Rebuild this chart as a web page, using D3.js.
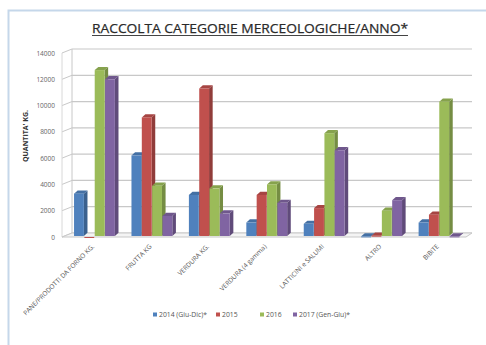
<!doctype html>
<html>
<head>
<meta charset="utf-8">
<title>Raccolta</title>
<script src="https://cdn.jsdelivr.net/npm/d3@7"></script>
<style>
  body { margin: 0; background: #fff; }
  text { font-family: "Open Sans", "Liberation Sans", sans-serif; }
</style>
</head>
<body>
<svg width="486" height="345"></svg>
<script>
var categories = ["PANE/PRODOTTI DA FORNO KG.", "FRUTTA KG", "VERDURA KG.", "VERDURA (4 gamma)", "LATTICINI e SALUMI", "ALTRO", "BIBITE"];
var seriesNames = ["2014 (Giu-Dic)*", "2015", "2016", "2017 (Gen-Giu)*"];
var v2014 = [3300, 6200, 3200, 1100, 1000, 50, 1100];
var v2015 = [0, 9100, 11300, 3200, 2200, 100, 1700];
var v2016 = [12700, 3900, 3700, 4000, 7900, 2000, 10300];
var v2017 = [12000, 1600, 1800, 2600, 6600, 2800, 50];
var yTicks = [0, 2000, 4000, 6000, 8000, 10000, 12000, 14000];

var values = [v2014, v2015, v2016, v2017];
var colors = ["#4f81bd", "#c0504d", "#9bbb59", "#8064a2"];

var svg = d3.select("svg");
var dx = 6, dy = -4; // depth offset for the 3d look

// frame
svg.append("rect").attr("x", 8.5).attr("y", 10.5).attr("width", 490).attr("height", 340)
  .attr("fill", "none").attr("stroke", "#c5d7ea").attr("stroke-width", 2);

var x = d3.scaleBand().domain(categories).range([66, 468]).paddingInner(0.28).paddingOuter(0.14);
var xs = d3.scaleBand().domain(d3.range(4)).range([0, x.bandwidth()]);
var y = d3.scaleLinear().domain([0, 14000]).range([237, 53]);

// walls and grid
var g = svg.append("g");
g.selectAll("line.grid").data(yTicks).join("line")
  .attr("x1", 66 + dx).attr("x2", 472)
  .attr("y1", d => y(d) + dy).attr("y2", d => y(d) + dy)
  .attr("stroke", "#c8c8c8").attr("stroke-width", 1.2);
g.selectAll("line.side").data(yTicks).join("line")
  .attr("x1", 62).attr("x2", 66 + dx)
  .attr("y1", d => y(d)).attr("y2", d => y(d) + dy)
  .attr("stroke", "#c8c8c8").attr("stroke-width", 1);
g.append("line").attr("x1", 66 + dx).attr("x2", 66 + dx).attr("y1", y(14000) + dy).attr("y2", y(0) + dy)
  .attr("stroke", "#c8c8c8");
g.append("line").attr("x1", 62).attr("x2", 62).attr("y1", y(14000)).attr("y2", y(0))
  .attr("stroke", "#d8d8d8");
// floor
g.append("path")
  .attr("d", "M62," + y(0) + "L466," + y(0) + "L472," + (y(0) + dy) + "L" + (66 + dx) + "," + (y(0) + dy) + "Z")
  .attr("fill", "#f4f4f4").attr("stroke", "#c8c8c8");

// y labels
svg.selectAll("text.ytick").data(yTicks).join("text")
  .attr("x", 55).attr("y", d => y(d) + 2.5)
  .attr("text-anchor", "end").attr("font-size", 6.5).attr("fill", "#666")
  .text(d => d);

// bars
var bars = [];
values.forEach(function (vals, s) {
  vals.forEach(function (v, i) {
    bars.push({ s: s, cat: categories[i], v: v });
  });
});
var bw = xs.bandwidth() - 0.5;
var bg = svg.append("g").selectAll("g").data(bars).join("g");
bg.filter(d => d.v > 0).append("path") // right side
  .attr("d", function (d) {
    var x0 = x(d.cat) + xs(d.s) + bw, yt = y(d.v), yb = y(0) - 1;
    return "M" + x0 + "," + yt + "L" + (x0 + dx * 0.6) + "," + (yt + dy * 0.8) + "L" + (x0 + dx * 0.6) + "," + (yb + dy * 0.8) + "L" + x0 + "," + yb + "Z";
  })
  .attr("fill", d => d3.color(colors[d.s]).darker(0.8));
bg.filter(d => d.v > 0).append("path") // top
  .attr("d", function (d) {
    var x0 = x(d.cat) + xs(d.s), yt = y(d.v);
    return "M" + x0 + "," + yt + "L" + (x0 + dx * 0.6) + "," + (yt + dy * 0.8) + "L" + (x0 + bw + dx * 0.6) + "," + (yt + dy * 0.8) + "L" + (x0 + bw) + "," + yt + "Z";
  })
  .attr("fill", d => d3.color(colors[d.s]).darker(0.4));
bg.append("rect")
  .attr("x", d => x(d.cat) + xs(d.s))
  .attr("y", d => y(d.v))
  .attr("width", bw)
  .attr("height", d => Math.max(1, y(0) - 1 - y(d.v)))
  .attr("fill", d => colors[d.s]);

// category labels
svg.selectAll("text.cat").data(categories).join("text")
  .attr("transform", d => "translate(" + (x(d) + x.bandwidth() / 2) + ",247) rotate(-45)")
  .attr("text-anchor", "end").attr("font-size", 6.5).attr("fill", "#555")
  .text(d => d);

// y title
svg.append("text")
  .attr("transform", "translate(28,136) rotate(-90)")
  .attr("text-anchor", "middle").attr("font-size", 7).attr("font-weight", "bold").attr("fill", "#333")
  .text("QUANTITA' KG.");

// title
var title = svg.append("text").attr("x", 250).attr("y", 33)
  .attr("text-anchor", "middle").attr("font-size", 13.5).attr("fill", "#2a2a2a")
  .attr("textLength", 316).attr("lengthAdjust", "spacingAndGlyphs")
  .attr("font-family", "Liberation Sans Narrow, Liberation Sans, sans-serif")
  .attr("stroke", "#2a2a2a").attr("stroke-width", 0.25)
  .text("RACCOLTA CATEGORIE MERCEOLOGICHE/ANNO*");
svg.append("line").attr("x1", 92).attr("x2", 408).attr("y1", 35.5).attr("y2", 35.5)
  .attr("stroke", "#444").attr("stroke-width", 1);

// legend
var legX = [153, 216, 260, 293];
var leg = svg.append("g").selectAll("g").data(seriesNames).join("g")
  .attr("transform", (d, i) => "translate(" + legX[i] + ",317)");
leg.append("rect").attr("x", 0).attr("y", -4.5).attr("width", 4).attr("height", 4).attr("fill", (d, i) => colors[i]);
leg.append("text").attr("x", 6).attr("y", 0).attr("font-size", 6.8).attr("fill", "#555").text(d => d);
</script>
</body>
</html>
